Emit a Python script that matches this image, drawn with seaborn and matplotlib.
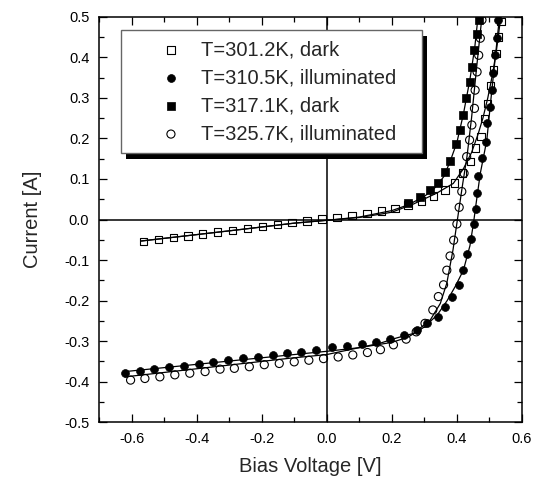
import numpy as np
import pandas as pd
import seaborn as sns
import matplotlib.pyplot as plt
from matplotlib.patches import Rectangle
from matplotlib.ticker import MultipleLocator, FormatStrFormatter

# T=301.2K, dark (open squares)
v_301 = [-0.564, -0.518, -0.472, -0.427, -0.381, -0.335, -0.290, -0.244, -0.198, -0.152,
         -0.107, -0.061, -0.015, 0.031, 0.078, 0.124, 0.169, 0.210, 0.250, 0.292,
         0.329, 0.363, 0.392, 0.418, 0.441, 0.458, 0.474, 0.484, 0.494, 0.503,
         0.512, 0.520, 0.528, 0.536]
i_301 = [-0.054, -0.050, -0.045, -0.041, -0.036, -0.031, -0.027, -0.022, -0.017, -0.012,
         -0.007, -0.004, 0.001, 0.005, 0.010, 0.015, 0.021, 0.027, 0.036, 0.046,
         0.058, 0.073, 0.090, 0.115, 0.143, 0.176, 0.204, 0.249, 0.286, 0.330,
         0.370, 0.410, 0.450, 0.488]

# T=310.5K, illuminated (filled circles)
v_310 = [-0.620, -0.574, -0.530, -0.485, -0.438, -0.393, -0.349, -0.303, -0.258, -0.210,
         -0.166, -0.123, -0.078, -0.032, 0.015, 0.062, 0.108, 0.152, 0.195, 0.236,
         0.277, 0.308, 0.343, 0.364, 0.385, 0.405, 0.418, 0.431, 0.443, 0.454,
         0.459, 0.462, 0.466, 0.477, 0.490, 0.494, 0.502, 0.507, 0.512, 0.517,
         0.522, 0.527]
i_310 = [-0.379, -0.374, -0.369, -0.364, -0.360, -0.356, -0.351, -0.346, -0.342, -0.338,
         -0.334, -0.330, -0.326, -0.321, -0.315, -0.311, -0.307, -0.301, -0.295, -0.285,
         -0.272, -0.256, -0.240, -0.215, -0.190, -0.161, -0.125, -0.085, -0.049, -0.011,
         0.025, 0.065, 0.107, 0.151, 0.192, 0.237, 0.278, 0.319, 0.360, 0.405,
         0.447, 0.492]

# T=317.1K, dark (filled squares)
v_317 = [0.250, 0.287, 0.318, 0.343, 0.364, 0.379, 0.398, 0.410, 0.420, 0.428,
         0.439, 0.446, 0.454, 0.462, 0.467]
i_317 = [0.040, 0.056, 0.073, 0.091, 0.118, 0.145, 0.186, 0.221, 0.258, 0.299,
         0.340, 0.377, 0.418, 0.457, 0.492]

# T=325.7K, illuminated (open circles)
v_325 = [-0.603, -0.559, -0.513, -0.467, -0.421, -0.374, -0.328, -0.284, -0.238, -0.192,
         -0.146, -0.100, -0.055, -0.010, 0.035, 0.080, 0.125, 0.165, 0.205, 0.244,
         0.275, 0.302, 0.326, 0.343, 0.359, 0.369, 0.379, 0.390, 0.400, 0.407,
         0.415, 0.422, 0.430, 0.439, 0.446, 0.454, 0.456, 0.462, 0.467, 0.472,
         0.477]
i_325 = [-0.396, -0.392, -0.388, -0.383, -0.379, -0.375, -0.369, -0.367, -0.363, -0.358,
         -0.355, -0.351, -0.347, -0.343, -0.339, -0.334, -0.328, -0.321, -0.309, -0.295,
         -0.277, -0.256, -0.223, -0.190, -0.161, -0.125, -0.090, -0.051, -0.011, 0.030,
         0.069, 0.114, 0.155, 0.196, 0.233, 0.274, 0.319, 0.364, 0.405, 0.447,
         0.492]

# Fitted curves (solid lines)
fit_v_301 = [-0.57, -0.3, -0.1, 0.0, 0.1, 0.164, 0.2, 0.266, 0.338, 0.389, 0.42, 0.445,
             0.465, 0.48, 0.495, 0.51, 0.522, 0.535]
fit_i_301 = [-0.053, -0.028, -0.009, -0.002, 0.005, 0.013, 0.018, 0.038, 0.065, 0.089,
             0.125, 0.165, 0.21, 0.25, 0.30, 0.36, 0.42, 0.50]

fit_v_317 = [-0.57, -0.3, -0.1, 0.0, 0.1, 0.2, 0.25, 0.3, 0.33, 0.36, 0.38, 0.40, 0.42,
             0.44, 0.455, 0.465]
fit_i_317 = [-0.053, -0.028, -0.009, -0.002, 0.006, 0.022, 0.036, 0.057, 0.076, 0.106,
             0.145, 0.19, 0.26, 0.345, 0.425, 0.50]

fit_v_310 = [-0.62, -0.3, -0.113, 0.0, 0.1, 0.2, 0.25, 0.3, 0.34, 0.37, 0.395, 0.42,
             0.44, 0.451, 0.46, 0.472, 0.492, 0.505, 0.518, 0.531]
fit_i_310 = [-0.375, -0.349, -0.334, -0.325, -0.316, -0.303, -0.290, -0.265, -0.235,
             -0.200, -0.165, -0.125, -0.065, -0.009, 0.045, 0.114, 0.196, 0.30, 0.40, 0.50]

fit_v_325 = [-0.62, -0.113, 0.0, 0.164, 0.215, 0.266, 0.318, 0.349, 0.369, 0.388, 0.4,
             0.418, 0.431, 0.445, 0.46, 0.477]
fit_i_325 = [-0.388, -0.342, -0.333, -0.305, -0.292, -0.281, -0.248, -0.207, -0.157,
             -0.075, -0.009, 0.089, 0.155, 0.25, 0.37, 0.50]

sns.set_style('ticks')
plt.rcParams['font.family'] = ['Liberation Sans', 'DejaVu Sans']
plt.rcParams['axes.unicode_minus'] = False

fig, ax = plt.subplots(figsize=(5.37, 4.79), dpi=100)
fig.subplots_adjust(left=0.1844, right=0.972, bottom=0.1184, top=0.9651)

# zero lines
ax.axhline(0, color='black', lw=1.1, zorder=1.5)
ax.axvline(0, color='black', lw=1.1, zorder=1.5)

# fit lines
for fv, fi in [(fit_v_301, fit_i_301), (fit_v_317, fit_i_317),
               (fit_v_310, fit_i_310), (fit_v_325, fit_i_325)]:
    sns.lineplot(x=fv, y=fi, color='black', lw=0.9, sort=False, estimator=None,
                 ax=ax, zorder=2)

# data points
sns.scatterplot(x=v_317, y=i_317, marker='s', s=26, color='black', edgecolor='black',
                linewidth=0.5, label='T=317.1K, dark', ax=ax, zorder=3)
sns.scatterplot(x=v_301, y=i_301, marker='s', s=28, facecolor='none', edgecolor='black',
                linewidth=0.8, label='T=301.2K, dark', ax=ax, zorder=3)
sns.scatterplot(x=v_310, y=i_310, marker='o', s=32, color='black', edgecolor='black',
                linewidth=0.5, label='T=310.5K, illuminated', ax=ax, zorder=3)
sns.scatterplot(x=v_325, y=i_325, marker='o', s=34, facecolor='none', edgecolor='black',
                linewidth=0.8, label='T=325.7K, illuminated', ax=ax, zorder=3)

ax.set_xlim(-0.7, 0.6)
ax.set_ylim(-0.5, 0.5)
ax.xaxis.set_major_locator(MultipleLocator(0.2))
ax.xaxis.set_minor_locator(MultipleLocator(0.1))
ax.yaxis.set_major_locator(MultipleLocator(0.1))
ax.yaxis.set_minor_locator(MultipleLocator(0.05))
ax.xaxis.set_major_formatter(FormatStrFormatter('%.1f'))
ax.yaxis.set_major_formatter(FormatStrFormatter('%.1f'))
ax.tick_params(which='both', direction='in', top=True, right=True, width=0.9,
               colors='black', labelsize=10.5)
ax.tick_params(which='major', length=5.8, pad=7)
ax.tick_params(which='minor', length=3.4)
for sp in ax.spines.values():
    sp.set_linewidth(1.1)
    sp.set_color('black')

ax.set_xlabel('Bias Voltage [V]', fontsize=14.5, labelpad=8)
ax.set_ylabel('Current [A]', fontsize=14.5, labelpad=16)

# legend in the original order
handles, labels = ax.get_legend_handles_labels()
order = ['T=301.2K, dark', 'T=310.5K, illuminated', 'T=317.1K, dark', 'T=325.7K, illuminated']
hmap = dict(zip(labels, handles))
leg = ax.legend([hmap[l] for l in order], order, loc='upper left',
                bbox_to_anchor=(0.051, 0.671, 0.712, 0.296), mode='expand',
                fontsize=14.5, frameon=True, fancybox=False, framealpha=1,
                edgecolor='#666666', borderpad=0.5, handlelength=4.0,
                handletextpad=-0.5, labelspacing=0.45, borderaxespad=0, scatterpoints=1)
leg.get_frame().set_linewidth(1.0)

# solid black drop shadow behind the legend
fig.canvas.draw()
bb = leg.get_window_extent()
inv = ax.transAxes.inverted()
(x0, y0) = inv.transform((bb.x0 + 5.5, bb.y0 - 6))
(x1, y1) = inv.transform((bb.x1 + 5.5, bb.y1 - 6))
ax.add_patch(Rectangle((x0, y0), x1 - x0, y1 - y0, transform=ax.transAxes,
                       facecolor='black', edgecolor='none', zorder=4.9, clip_on=False))

fig.savefig('out.png', dpi=100)
